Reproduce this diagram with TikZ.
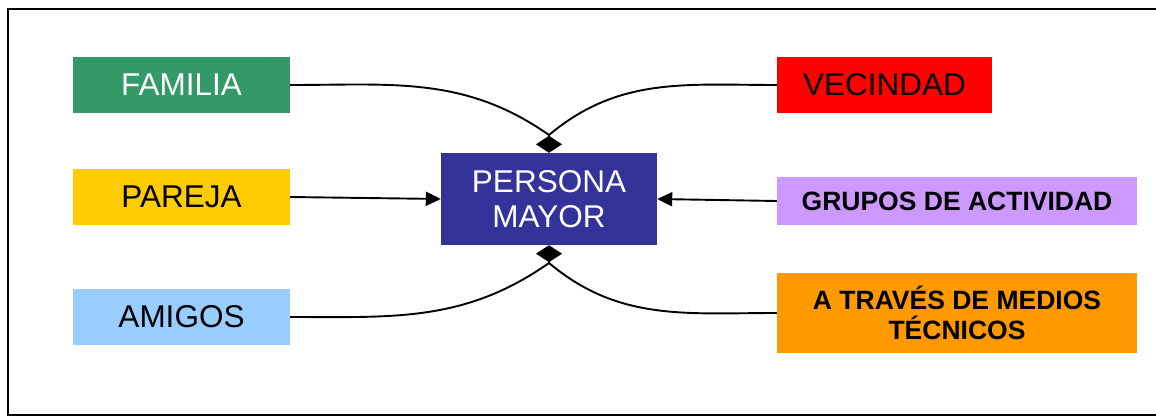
\documentclass[tikz,border=0pt]{standalone}
\usepackage{fontspec}
\setmainfont{Liberation Sans}
\usetikzlibrary{arrows.meta}

\definecolor{verde}{HTML}{339966}
\definecolor{amarillo}{HTML}{FFCC00}
\definecolor{celeste}{HTML}{99CCFF}
\definecolor{azul}{HTML}{333399}
\definecolor{rojo}{HTML}{FF0000}
\definecolor{lila}{HTML}{CC99FF}
\definecolor{naranja}{HTML}{FF9900}

\begin{document}
\begin{tikzpicture}[x=1pt,y=-1pt,
		caja/.style={minimum width=217pt, minimum height=56pt, inner sep=0pt, align=center, font=\fontsize{31.5}{35}\selectfont},
		cajab/.style={minimum width=360pt, inner sep=0pt, align=center, font=\fontsize{26.5}{30}\selectfont\bfseries},
		linea/.style={line width=1.9pt}]
		\useasboundingbox (0,0) rectangle (1156,419);
		\draw[line width=2pt] (8,9) rectangle (1175,415);

		\draw (181.5,85) node[caja, fill=verde, text=white] (familia) {FAMILIA};
		\draw (181.5,197) node[caja, fill=amarillo] (pareja) {PAREJA};
		\draw (181.5,317) node[caja, fill=celeste] (amigos) {AMIGOS};

		\draw (549,199) node[caja, minimum width=216pt, minimum height=92pt, fill=azul, text=white] (mayor) {PERSONA\\MAYOR};

		\draw (884.5,85) node[caja, minimum width=215pt, fill=rojo] (vecindad) {VECINDAD};
		\draw (957,201) node[cajab, minimum height=48pt, fill=lila] (grupos) {GRUPOS DE ACTIVIDAD};
		\draw (957,313) node[cajab, minimum height=80pt, fill=naranja] (medios) {A TRAVÉS DE MEDIOS\\TÉCNICOS};

		\coordinate (arriba) at (549,135);
		\coordinate (abajo) at (549,263);

		\draw[linea] (familia.east) to[out=0, in=145] (arriba);
		\draw[linea] (vecindad.west) to[out=180, in=40] (arriba);
		\draw[linea] (amigos.east) to[out=0, in=215] (abajo);
		\draw[linea] (medios.west) to[out=180, in=320] (abajo);
		\draw[linea, -{Diamond[length=17pt, width=26pt]}] (arriba) -- (mayor.north);
		\draw[linea, -{Diamond[length=17pt, width=26pt]}] (abajo) -- (mayor.south);

		\draw[linea, -{Triangle[length=15pt, width=14pt]}] (pareja.east) -- (mayor.west);
		\draw[linea, -{Triangle[length=15pt, width=14pt]}] (grupos.west) -- (mayor.east);
	\end{tikzpicture}
\end{document}
